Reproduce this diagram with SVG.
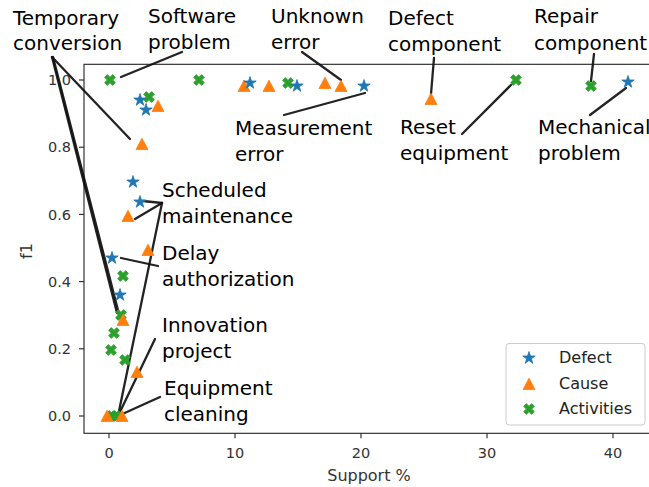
<svg xmlns="http://www.w3.org/2000/svg" width="649" height="487" viewBox="0 0 649 487">
<style>
.ann{font-family:"DejaVu Sans",Verdana,sans-serif;font-size:20px;fill:#000}
.tick{font-family:"DejaVu Sans",sans-serif;font-size:14.5px;fill:#333}
.lab{font-family:"DejaVu Sans",sans-serif;font-size:16px;fill:#333}
.leg{font-family:"DejaVu Sans",sans-serif;font-size:16px;fill:#222}
.spine{stroke:#222;stroke-width:1.1;fill:none}
.tk{stroke:#222;stroke-width:1.1}
.conn line{stroke:#111;stroke-width:2.3;stroke-linecap:round;opacity:0.92}
.d{fill:#1f77b4;stroke:#1f77b4;stroke-width:0.8}
.c{fill:#ff7f0e;stroke:#ff7f0e;stroke-width:0.8}
.a{fill:#2ca02c;stroke:#2ca02c;stroke-width:0.8}
</style>
<defs>
<path id="star" d="M0,-6.5 L1.458,-2.006 L6.182,-2.009 L2.358,0.766 L3.821,5.259 L0,2.48 L-3.821,5.259 L-2.358,0.766 L-6.182,-2.009 L-1.458,-2.006 Z"/>
<path id="tri" d="M0,-5.8 L6,5.5 L-6,5.5 Z"/>
<path id="xf" d="M2.7,-5.4 L5.4,-2.7 L2.7,0 L5.4,2.7 L2.7,5.4 L0,2.7 L-2.7,5.4 L-5.4,2.7 L-2.7,0 L-5.4,-2.7 L-2.7,-5.4 L0,-2.7 Z"/>
</defs>
<rect width="649" height="487" fill="#fff"/>
<g id="axes">
<rect class="spine" x="84" y="64.3" width="580" height="369"/>
<g class="tk">
<line x1="79" y1="80" x2="84" y2="80"/><line x1="79" y1="147.2" x2="84" y2="147.2"/><line x1="79" y1="214.4" x2="84" y2="214.4"/><line x1="79" y1="281.6" x2="84" y2="281.6"/><line x1="79" y1="348.8" x2="84" y2="348.8"/><line x1="79" y1="416" x2="84" y2="416"/>
<line x1="109" y1="433.3" x2="109" y2="438.3"/><line x1="235" y1="433.3" x2="235" y2="438.3"/><line x1="361" y1="433.3" x2="361" y2="438.3"/><line x1="487" y1="433.3" x2="487" y2="438.3"/><line x1="613" y1="433.3" x2="613" y2="438.3"/>
</g>
<g class="tick" text-anchor="end">
<text x="71" y="85.2">1.0</text><text x="71" y="152.4">0.8</text><text x="71" y="219.6">0.6</text><text x="71" y="286.8">0.4</text><text x="71" y="354">0.2</text><text x="71" y="421.2">0.0</text>
</g>
<g class="tick" text-anchor="middle">
<text x="109" y="457.5">0</text><text x="235" y="457.5">10</text><text x="361" y="457.5">20</text><text x="487" y="457.5">30</text><text x="613" y="457.5">40</text>
</g>
<text class="lab" x="369" y="481" text-anchor="middle">Support %</text>
<text class="lab" transform="translate(32,251) rotate(-90)" text-anchor="middle">f1</text>
</g>
<g id="connectors" class="conn">
<line x1="52" y1="57" x2="130" y2="139"/>
<line x1="52" y1="57" x2="117" y2="313"/>
<line x1="53" y1="57" x2="120" y2="318"/>
<line x1="182" y1="52" x2="121" y2="77"/>
<line x1="302" y1="52" x2="341" y2="80"/>
<line x1="284" y1="115" x2="365" y2="93"/>
<line x1="434" y1="58" x2="431" y2="94"/>
<line x1="462" y1="134" x2="511" y2="85"/>
<line x1="594" y1="54" x2="591" y2="81"/>
<line x1="590" y1="115" x2="626" y2="88"/>
<line x1="162" y1="203" x2="143" y2="201"/>
<line x1="162" y1="203" x2="135" y2="219"/>
<line x1="162" y1="203" x2="118" y2="416"/>
<line x1="158" y1="266" x2="121" y2="258"/>
<line x1="155" y1="339" x2="118" y2="416"/>
<line x1="160" y1="397" x2="118" y2="416"/>
</g>
<g id="data">
<g id="series-activities" class="a">
<use href="#xf" x="110" y="80"/><use href="#xf" x="199" y="80"/><use href="#xf" x="288" y="83"/><use href="#xf" x="516" y="80"/><use href="#xf" x="591" y="86"/>
<use href="#xf" x="149" y="97"/><use href="#xf" x="123" y="276"/><use href="#xf" x="121" y="315"/><use href="#xf" x="114" y="333"/><use href="#xf" x="111" y="350"/><use href="#xf" x="125" y="360"/>
<use href="#xf" x="112" y="416"/><use href="#xf" x="116" y="416"/>
</g>
<g id="series-cause" class="c">
<use href="#tri" x="244" y="86"/><use href="#tri" x="269" y="86"/><use href="#tri" x="325" y="83"/><use href="#tri" x="341" y="86"/><use href="#tri" x="431" y="99"/>
<use href="#tri" x="158" y="106"/><use href="#tri" x="142" y="144"/><use href="#tri" x="128" y="216"/><use href="#tri" x="148" y="250"/><use href="#tri" x="123" y="320"/><use href="#tri" x="137" y="372"/>
<use href="#tri" x="107" y="416"/><use href="#tri" x="122" y="416"/>
</g>
<g id="series-defect" class="d">
<use href="#star" x="250" y="83"/><use href="#star" x="297" y="86"/><use href="#star" x="364" y="86"/><use href="#star" x="628" y="82"/>
<use href="#star" x="140" y="100"/><use href="#star" x="146" y="110"/><use href="#star" x="133" y="182"/><use href="#star" x="140" y="202"/><use href="#star" x="112" y="258"/><use href="#star" x="120" y="295"/>
</g>
</g>
<g id="node-temporary-conversion" class="ann"><text x="13" y="25">Temporary</text><text x="13" y="50">conversion</text></g>
<g id="node-software-problem" class="ann"><text x="148" y="23">Software</text><text x="148" y="49">problem</text></g>
<g id="node-unknown-error" class="ann"><text x="271" y="23">Unknown</text><text x="271" y="49">error</text></g>
<g id="node-defect-component" class="ann"><text x="388" y="25">Defect</text><text x="388" y="51">component</text></g>
<g id="node-repair-component" class="ann"><text x="534" y="23">Repair</text><text x="534" y="50">component</text></g>
<g id="node-measurement-error" class="ann"><text x="235" y="135">Measurement</text><text x="235" y="161">error</text></g>
<g id="node-reset-equipment" class="ann"><text x="400" y="134">Reset</text><text x="400" y="160">equipment</text></g>
<g id="node-mechanical-problem" class="ann"><text x="538" y="134">Mechanical</text><text x="538" y="160">problem</text></g>
<g id="node-scheduled-maintenance" class="ann"><text x="162" y="197">Scheduled</text><text x="162" y="223">maintenance</text></g>
<g id="node-delay-authorization" class="ann"><text x="162" y="260">Delay</text><text x="162" y="286">authorization</text></g>
<g id="node-innovation-project" class="ann"><text x="162" y="332">Innovation</text><text x="162" y="358">project</text></g>
<g id="node-equipment-cleaning" class="ann"><text x="164" y="395">Equipment</text><text x="164" y="421">cleaning</text></g>
<g id="legend">
<rect x="506" y="343.5" width="139" height="81.5" rx="3" fill="#fff" fill-opacity="0.8" stroke="#ccc" stroke-width="1"/>
<use href="#star" class="d" x="529" y="358"/>
<use href="#tri" class="c" x="529" y="384"/>
<use href="#xf" class="a" x="529" y="409"/>
<text class="leg" x="559" y="363">Defect</text>
<text class="leg" x="559" y="389">Cause</text>
<text class="leg" x="559" y="414">Activities</text>
</g>
</svg>
